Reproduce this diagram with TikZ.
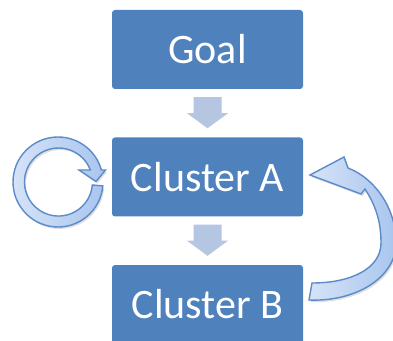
\documentclass[tikz,border=0pt]{standalone}
\usepackage{fontspec}
\setmainfont{Carlito}
\usetikzlibrary{calc,shadows}
\definecolor{boxblue}{HTML}{4F81BD}
\definecolor{arrowgray}{HTML}{B4C6E1}
\definecolor{loopline}{HTML}{5B8BC9}
\definecolor{looplight}{HTML}{D6E3F7}
\definecolor{loopdark}{HTML}{A9C5EE}
\begin{document}
\begin{tikzpicture}[x=1pt,y=1pt,
  box/.style={fill=boxblue, rounded corners=3pt, minimum width=191pt, minimum height=79pt,
    text=white, font=\fontsize{42}{50}\selectfont, inner sep=0pt},
  loopshape/.style={draw=loopline, line width=1.4pt, left color=looplight, right color=loopdark,
    drop shadow={opacity=0.25, shadow xshift=1.5pt, shadow yshift=-2pt}},
  blockarrow/.style={fill=arrowgray}]
\useasboundingbox (0,0) rectangle (393,340);
\clip (0,0) rectangle (393,340);
\node[box] (goal) at (207.5,290.5) {Goal};
\node[box] (ca) at (207.5,163) {Cluster A};
\node[box] (cb) at (207.5,35.5) {Cluster B};
\foreach \a/\b in {goal/ca, ca/cb}{
  \fill[blockarrow] ($(\a.south)+(-14,-8)$) -- ($(\a.south)+(14,-8)$) -- ($(\a.south)+(14,-24)$)
    -- ($(\a.south)+(20.5,-24)$) -- ($(\b.north)+(0,9)$) -- ($(\a.south)+(-20.5,-24)$)
    -- ($(\a.south)+(-14,-24)$) -- cycle;
}
% self loop on Cluster A
\path[loopshape] ($(58,158)+(-5:45)$) arc[start angle=-5, end angle=-344.5, radius=45]
  -- (105.5,170) -- (96,158.5) -- (79,170) -- (90.3,170)
  arc[start angle=-339.3, end angle=-5, radius=34] -- cycle;
% return arrow from Cluster B to Cluster A
\path[loopshape] (309,40) .. controls (355,38) and (396,62) .. (396,97)
  .. controls (396,133) and (374,162) .. (348,172) -- (344,183) -- (310,165) -- (361,146)
  -- (365,151) .. controls (376,134) and (381,118) .. (381,97)
  .. controls (381,72) and (352,57) .. (312,57) -- cycle;
\end{tikzpicture}
\end{document}
